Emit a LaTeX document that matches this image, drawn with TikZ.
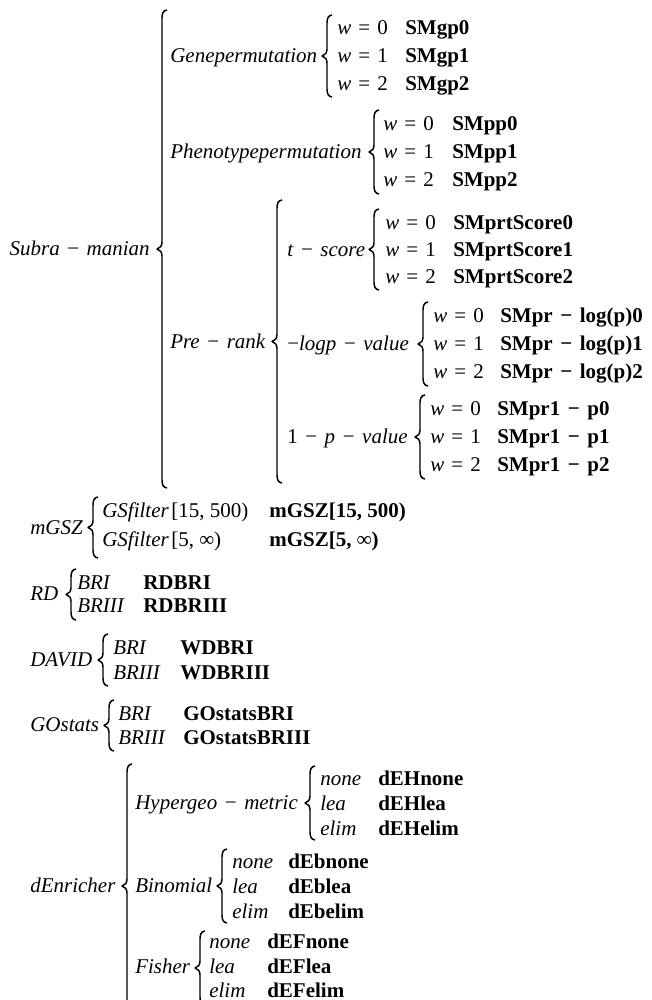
\documentclass[tikz,border=0pt]{standalone}
\usepackage{fontspec}
\setmainfont{Liberation Serif}
\newcommand{\fsz}{\fontsize{15.75}{19}\selectfont}
\newcommand{\mn}{\textup{\hspace{0.36em}−\hspace{0.36em}}}
\newcommand{\weq}[1]{\textit{w}\hspace{0.34em}=\hspace{0.34em}#1}
\newcommand{\brc}[3]{%
  \pgfmathsetmacro{\brcm}{(#2+#3)/2}%
  \draw[brcs] ({#1+5},{#2}) .. controls ({#1+1.5},{#2+0.5}) and ({#1},{#2+3}) .. ({#1},{#2+8})
    -- ({#1},{\brcm-7}) .. controls ({#1},{\brcm-3}) and ({#1-2},{\brcm-0.8}) .. ({#1-5},{\brcm})
    .. controls ({#1-2},{\brcm+0.8}) and ({#1},{\brcm+3}) .. ({#1},{\brcm+7})
    -- ({#1},{#3-8}) .. controls ({#1},{#3-3}) and ({#1+1.5},{#3-0.5}) .. ({#1+5},{#3});}
\tikzset{
  lbl/.style={anchor=base west, inner sep=0pt, font=\fsz\itshape},
  lble/.style={anchor=base east, inner sep=0pt, font=\fsz\itshape},
  row/.style={anchor=base west, inner sep=0pt, font=\fsz},
  val/.style={anchor=base west, inner sep=0pt, font=\fsz\bfseries},
  brcs/.style={draw, line width=1.1pt, line join=round}
}
\begin{document}
\begin{tikzpicture}[x=0.75pt,y=-0.75pt]
\useasboundingbox (0,0) rectangle (652,1000);
\clip (0,0) rectangle (652,1000);
\fill[white] (0,0) rectangle (652,1000);

% ---- Subra-manian
\node[lble] (subra) at (150,255) {Subra\mn manian};
\brc{162}{10}{488}

% Genepermutation
\node[lbl] (gene) at (170,62) {Genepermutation};
\brc{327}{15}{97}
\node[row] (g0) at (337,34) {\weq{0}}; \node[val] (g0v) at (405,34) {SMgp0};
\node[row] (g1) at (337,62) {\weq{1}}; \node[val] (g1v) at (405,62) {SMgp1};
\node[row] (g2) at (337,90) {\weq{2}}; \node[val] (g2v) at (405,90) {SMgp2};

% Phenotypepermutation
\node[lbl] (pheno) at (170,158) {Phenotypepermutation};
\brc{374}{110}{194}
\node[row] (p0) at (383,130) {\weq{0}}; \node[val] (p0v) at (452,130) {SMpp0};
\node[row] (p1) at (383,158) {\weq{1}}; \node[val] (p1v) at (452,158) {SMpp1};
\node[row] (p2) at (383,186) {\weq{2}}; \node[val] (p2v) at (452,186) {SMpp2};

% Pre-rank
\node[lbl] (prerank) at (170,348) {Pre\mn rank};
\brc{277}{200}{483}

% t-score
\node[lbl] (tscore) at (287,256) {t\mn score};
\brc{374}{209}{290}
\node[row] (t0) at (385,229) {\weq{0}}; \node[val] (t0v) at (453,229) {SMprtScore0};
\node[row] (t1) at (385,256) {\weq{1}}; \node[val] (t1v) at (453,256) {SMprtScore1};
\node[row] (t2) at (385,283) {\weq{2}}; \node[val] (t2v) at (453,283) {SMprtScore2};

% -logp-value
\node[lbl] (logp) at (287,350) {\textup{−}logp\mn value};
\brc{423}{302}{386}
\node[row] (l0) at (433,322) {\weq{0}}; \node[val] (l0v) at (500,322) {SMpr\mn log(p)0};
\node[row] (l1) at (433,350) {\weq{1}}; \node[val] (l1v) at (500,350) {SMpr\mn log(p)1};
\node[row] (l2) at (433,378) {\weq{2}}; \node[val] (l2v) at (500,378) {SMpr\mn log(p)2};

% 1-p-value
\node[lbl] (onep) at (287,443) {\textup{1}\mn p\mn value};
\brc{420}{395}{479}
\node[row] (o0) at (430,415) {\weq{0}}; \node[val] (o0v) at (497,415) {SMpr1\mn p0};
\node[row] (o1) at (430,443) {\weq{1}}; \node[val] (o1v) at (497,443) {SMpr1\mn p1};
\node[row] (o2) at (430,471) {\weq{2}}; \node[val] (o2v) at (497,471) {SMpr1\mn p2};

% ---- mGSZ
\node[lbl] (mgsz) at (30,534) {mGSZ};
\brc{93}{497}{558}
\node[lbl] (m1a) at (102,517) {GSfilter}; \node[row] (m1b) at (171,517) {[15, 500)};
\node[val] (m1v) at (269,517) {mGSZ[15, 500)};
\node[lbl] (m2a) at (102,546) {GSfilter}; \node[row] (m2b) at (171,546) {[5, ∞)};
\node[val] (m2v) at (269,546) {mGSZ[5, ∞)};

% ---- RD
\node[lbl] (rd) at (30,600) {RD};
\brc{71}{569}{620}
\node[lbl] (r1) at (77,589) {BRI}; \node[val] (r1v) at (143,589) {RDBRI};
\node[lbl] (r2) at (77,612) {BRIII}; \node[val] (r2v) at (143,612) {RDBRIII};

% ---- DAVID
\node[lbl] (david) at (30,666) {DAVID};
\brc{103}{634}{686}
\node[lbl] (d1) at (113,654) {BRI}; \node[val] (d1v) at (180,654) {WDBRI};
\node[lbl] (d2) at (113,679) {BRIII}; \node[val] (d2v) at (180,679) {WDBRIII};

% ---- GOstats
\node[lbl] (gostats) at (30,731) {GOstats};
\brc{109}{700}{751}
\node[lbl] (s1) at (118,720) {BRI}; \node[val] (s1v) at (183,720) {GOstatsBRI};
\node[lbl] (s2) at (118,744) {BRIII}; \node[val] (s2v) at (183,744) {GOstatsBRIII};

% ---- dEnricher
\node[lbl] (denr) at (30,892) {dEnricher};
\brc{127}{764}{1008}

\node[lbl] (hyper) at (135,809) {Hypergeo\mn metric};
\brc{310}{766}{840}
\node[lbl] (h1) at (320,785) {none}; \node[val] (h1v) at (378,785) {dEHnone};
\node[lbl] (h2) at (320,810) {lea}; \node[val] (h2v) at (378,810) {dEHlea};
\node[lbl] (h3) at (320,835) {elim}; \node[val] (h3v) at (378,835) {dEHelim};

\node[lbl] (binom) at (135,892) {Binomial};
\brc{222}{849}{923}
\node[lbl] (b1) at (232,868) {none}; \node[val] (b1v) at (288,868) {dEbnone};
\node[lbl] (b2) at (232,893) {lea}; \node[val] (b2v) at (288,893) {dEblea};
\node[lbl] (b3) at (232,918) {elim}; \node[val] (b3v) at (288,918) {dEbelim};

\node[lbl] (fisher) at (135,973) {Fisher};
\brc{200}{931}{1005}
\node[lbl] (f1) at (209,948) {none}; \node[val] (f1v) at (267,948) {dEFnone};
\node[lbl] (f2) at (209,973) {lea}; \node[val] (f2v) at (267,973) {dEFlea};
\node[lbl] (f3) at (209,997) {elim}; \node[val] (f3v) at (267,997) {dEFelim};
\end{tikzpicture}
\end{document}
